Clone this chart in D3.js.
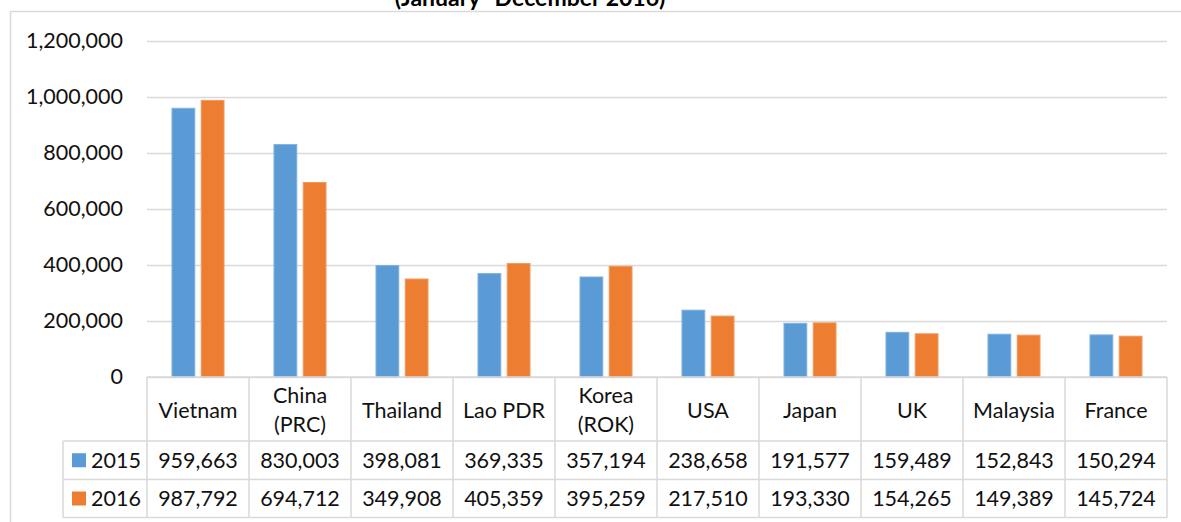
<!DOCTYPE html>
<html>
<head>
<meta charset="utf-8">
<script src="https://cdn.jsdelivr.net/npm/d3@7"></script>
<style>
  body { margin: 0; background: #fff; }
  svg { display: block; font-family: Lato, "Open Sans", sans-serif; }
</style>
</head>
<body>
<div id="chart"></div>
<script>
// data
const countries = ["Vietnam", "China\n(PRC)", "Thailand", "Lao PDR", "Korea\n(ROK)", "USA", "Japan", "UK", "Malaysia", "France"];
const seriesNames = ["2015", "2016"];
const values2015 = [959663, 830003, 398081, 369335, 357194, 238658, 191577, 159489, 152843, 150294];
const values2016 = [987792, 694712, 349908, 405359, 395259, 217510, 193330, 154265, 149389, 145724];
const yTicks = [0, 200000, 400000, 600000, 800000, 1000000, 1200000];
const title = "(January- December 2016)";

const colors = ["#5B9BD5", "#ED7D31"];
const strokes = ["#7FB1DF", "#F09A5E"];
const width = 1181;
const height = 522;
const fontSize = "21.5px";

const plotLeft = 147, plotRight = 1167, plotTop = 41, plotBottom = 377;
const legendLeft = 63;
const row1 = 441, row2 = 479.5, row3 = 517.5;

const svg = d3.select("#chart")
    .append("svg")
    .attr("width", width)
    .attr("height", height);

// outer frame (top and left edges visible)
svg.append("rect")
    .attr("x", 10.5)
    .attr("y", 11.5)
    .attr("width", 1300)
    .attr("height", 600)
    .attr("fill", "none")
    .attr("stroke", "#d9d9d9")
    .attr("stroke-width", 1.5);

svg.append("text")
    .attr("x", 530)
    .attr("y", 6)
    .attr("text-anchor", "middle")
    .attr("font-weight", "bold")
    .attr("font-size", "23px")
    .attr("fill", "#000")
    .text(title);

const x = d3.scaleBand()
    .domain(countries)
    .range([plotLeft, plotRight])
    .paddingInner(0.49)
    .paddingOuter(0.245);

const xs = d3.scaleBand()
    .domain(seriesNames)
    .range([0, x.bandwidth()])
    .paddingInner(0.22);

const y = d3.scaleLinear()
    .domain([0, 1200000])
    .range([plotBottom, plotTop]);

const yAxis = svg.append("g")
    .attr("transform", `translate(${plotLeft},0)`)
    .call(d3.axisLeft(y)
        .tickValues(yTicks)
        .tickSize(-(plotRight - plotLeft))
        .tickPadding(24)
        .tickFormat(d3.format(",")));

yAxis.select(".domain").remove();
yAxis.selectAll(".tick line")
    .attr("stroke", "#d9d9d9")
    .attr("stroke-width", 1.5);
yAxis.selectAll(".tick text")
    .attr("font-size", fontSize)
    .attr("font-family", "Lato, sans-serif")
    .attr("fill", "#111");

const rows = countries.map((c, i) => ({ name: c, vals: [values2015[i], values2016[i]] }));

const groups = svg.selectAll(".group")
    .data(rows)
    .enter()
    .append("g")
    .attr("class", "group")
    .attr("transform", (d) => `translate(${x(d.name)},0)`);

groups.selectAll("rect")
    .data((d) => d.vals.map((v, j) => ({ key: seriesNames[j], value: v, j: j })))
    .enter()
    .append("rect")
    .attr("x", (d) => xs(d.key))
    .attr("y", (d) => y(d.value))
    .attr("width", xs.bandwidth())
    .attr("height", (d) => plotBottom - y(d.value))
    .attr("fill", (d) => colors[d.j])
    .attr("stroke", (d) => strokes[d.j])
    .attr("stroke-width", 1);

// data table under the plot
const step = x.step();
const cols = d3.range(countries.length + 1).map((i) => plotLeft + i * step);
const grid = svg.append("g")
    .attr("stroke", "#d9d9d9")
    .attr("stroke-width", 1.5);

grid.append("line").attr("x1", plotLeft).attr("x2", plotRight).attr("y1", plotBottom).attr("y2", plotBottom);
[row1, row2, row3].forEach((ry) => {
    grid.append("line").attr("x1", legendLeft).attr("x2", plotRight).attr("y1", ry).attr("y2", ry);
});
grid.append("line").attr("x1", legendLeft).attr("x2", legendLeft).attr("y1", row1).attr("y2", row3);
cols.forEach((cx) => {
    grid.append("line").attr("x1", cx).attr("x2", cx).attr("y1", plotBottom).attr("y2", row3);
});

const headerMid = (plotBottom + row1) / 2 + 1;
svg.selectAll(".head")
    .data(countries)
    .enter()
    .append("text")
    .attr("class", "head")
    .attr("x", (d) => x(d) + x.bandwidth() / 2)
    .attr("y", headerMid)
    .attr("text-anchor", "middle")
    .attr("font-size", fontSize)
    .attr("fill", "#111")
    .each(function (d) {
        const lines = d.split("\n");
        const t = d3.select(this);
        lines.forEach((ln, k) => {
            t.append("tspan")
                .attr("x", x(d) + x.bandwidth() / 2)
                .attr("y", headerMid + (k - (lines.length - 1) / 2) * 29)
                .attr("dy", "0.35em")
                .text(ln);
        });
    });

const rowMids = [(row1 + row2) / 2, (row2 + row3) / 2];
const fmt = d3.format(",");

seriesNames.forEach((s, j) => {
    const vals = j === 0 ? values2015 : values2016;
    svg.append("rect")
        .attr("x", 72)
        .attr("y", rowMids[j] - 7)
        .attr("width", 14)
        .attr("height", 14)
        .attr("fill", colors[j]);
    svg.append("text")
        .attr("x", 91)
        .attr("y", rowMids[j])
        .attr("dy", "0.35em")
        .attr("font-size", fontSize)
        .attr("fill", "#111")
        .text(s);
    svg.selectAll(".val" + s)
        .data(vals)
        .enter()
        .append("text")
        .attr("x", (d, i) => x(countries[i]) + x.bandwidth() / 2)
        .attr("y", rowMids[j])
        .attr("dy", "0.35em")
        .attr("text-anchor", "middle")
        .attr("font-size", fontSize)
        .attr("fill", "#111")
        .text((d) => fmt(d));
});
</script>
</body>
</html>
